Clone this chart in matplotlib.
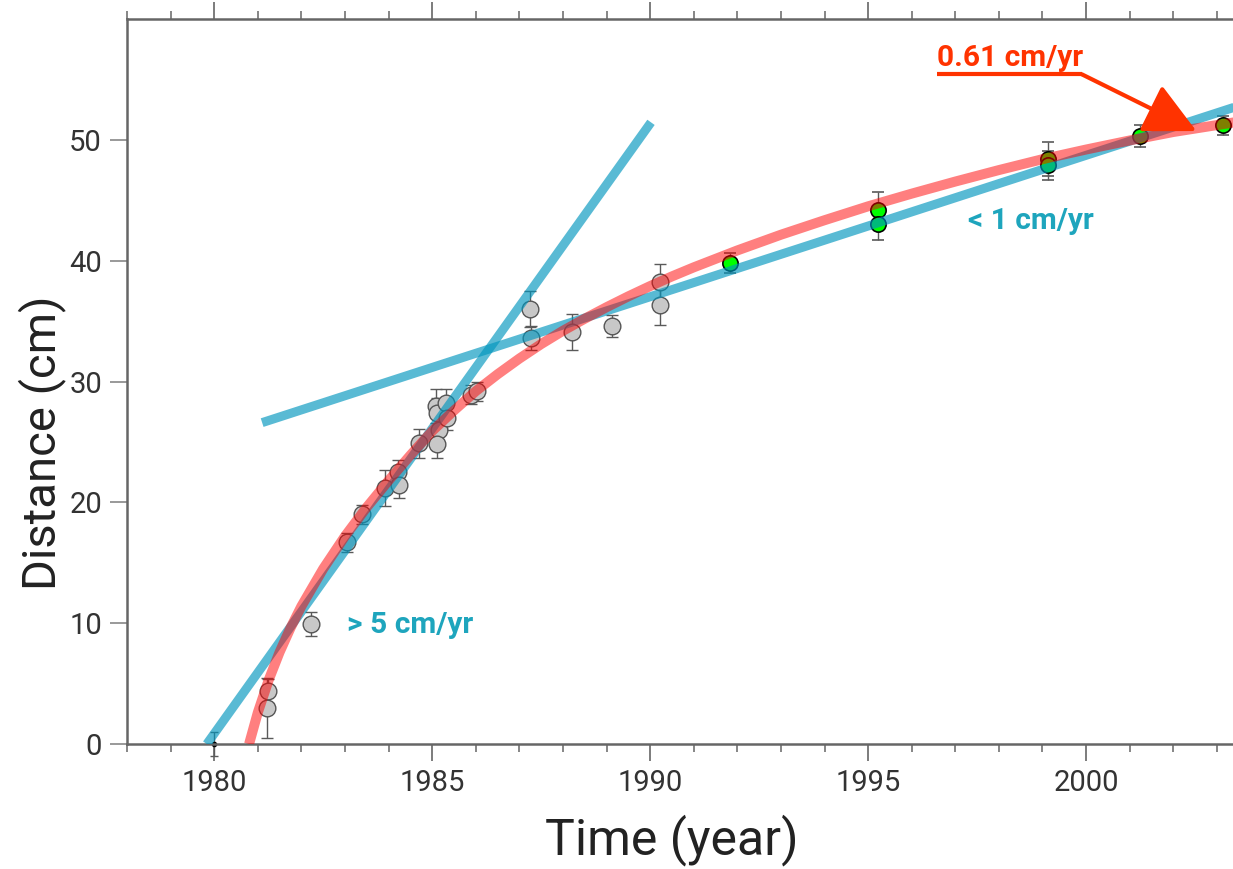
import matplotlib
matplotlib.use("Agg")
import matplotlib.pyplot as plt
from matplotlib import font_manager
from matplotlib.ticker import MultipleLocator

# survey points before 1991 (year, distance in cm, 1-sigma error in cm)
grey_year = [1981.21, 1981.23, 1982.22, 1983.05, 1983.38, 1983.92, 1984.22, 1984.24,
             1984.70, 1985.08, 1985.11, 1985.15, 1985.11, 1985.32, 1985.34, 1985.88,
             1986.03, 1987.24, 1987.27, 1988.20, 1989.12, 1990.22, 1990.22]
grey_dist = [3.0, 4.4, 9.9, 16.7, 19.0, 21.2, 22.5, 21.4,
             24.9, 28.0, 27.4, 26.0, 24.8, 28.2, 27.0, 28.9,
             29.2, 36.0, 33.6, 34.1, 34.6, 38.2, 36.3]
grey_err = [2.5, 1.0, 1.0, 0.8, 0.8, 1.5, 1.0, 1.0,
            1.2, 1.4, 1.2, 1.0, 1.1, 1.2, 1.0, 0.8,
            0.8, 1.5, 1.0, 1.5, 0.9, 1.5, 1.6]

# newer survey points
green_year = [1991.83, 1995.22, 1995.22, 1999.12, 1999.12, 2001.23, 2003.14]
green_dist = [39.8, 44.2, 43.0, 48.4, 47.9, 50.3, 51.2]
green_err = [0.8, 1.5, 1.3, 1.4, 1.2, 0.9, 0.8]

# reference point
origin_year = [1980.0]
origin_dist = [0.0]
origin_err = [1.0]

# decaying fit curve
fit_year = [1980.80, 1981.0, 1981.25, 1981.5, 1981.75, 1982.0, 1982.5, 1983.0, 1983.5,
            1984.0, 1984.5, 1985.0, 1985.5, 1986.0, 1986.5, 1987.0, 1987.5, 1988.0,
            1988.5, 1989.0, 1989.5, 1990.0, 1990.5, 1991.0, 1992.0, 1993.0, 1994.0,
            1995.0, 1996.0, 1997.0, 1998.0, 1999.0, 2000.0, 2001.0, 2002.0, 2003.4]
fit_dist = [0.0, 2.6, 5.3, 7.6, 9.6, 11.4, 14.5, 17.2, 19.6,
            21.8, 23.9, 25.9, 27.6, 29.2, 30.6, 31.9, 33.1, 34.2,
            35.2, 36.15, 37.05, 37.9, 38.7, 39.45, 40.85, 42.15, 43.35,
            44.5, 45.55, 46.55, 47.5, 48.4, 49.2, 49.95, 50.65, 51.45]

# straight-line rates
early_year = [1979.83, 1990.02]
early_dist = [0.0, 51.45]
late_year = [1981.10, 2003.40]
late_dist = [26.6, 52.7]

names = {f.name for f in font_manager.fontManager.ttflist}
narrow = "Liberation Sans Narrow" if "Liberation Sans Narrow" in names else "Roboto"
label_size = 25 if narrow != "Roboto" else 21.5

plt.rcParams["font.family"] = ["Roboto", "DejaVu Sans"]

fig = plt.figure(figsize=(12.33, 8.69), dpi=100)
ax = fig.add_axes([0.103, 0.1438, 0.897, 0.8343])

ax.errorbar(grey_year, grey_dist, yerr=grey_err, fmt="o", ms=12, mfc="#c8c8c8",
            mec="#555555", mew=1, ecolor="#5a5a5a", elinewidth=1, capsize=4.5, zorder=2)
ax.errorbar(green_year, green_dist, yerr=green_err, fmt="o", ms=11, mfc="#00ff00",
            mec="black", mew=1.2, ecolor="#5a5a5a", elinewidth=1, capsize=4.5, zorder=2)
ax.errorbar(origin_year, origin_dist, yerr=origin_err, fmt="o", ms=3, mfc="black",
            mec="black", ecolor="#5a5a5a", elinewidth=1, capsize=3, zorder=2, clip_on=False)

ax.plot(early_year, early_dist, color="#0096be", alpha=0.65, lw=6.5,
        solid_capstyle="butt", zorder=3)
ax.plot(late_year, late_dist, color="#0096be", alpha=0.65, lw=6.5,
        solid_capstyle="butt", zorder=3)
ax.plot(fit_year, fit_dist, color="red", alpha=0.5, lw=7.2,
        solid_capstyle="butt", solid_joinstyle="round", zorder=4)

# rate labels
teal = "#1ea5bd"
ax.text(1983.05, 9.86, "> 5 cm/yr", color=teal, fontsize=label_size, fontweight="bold",
        family=[narrow, "DejaVu Sans"], ha="left", va="center")
ax.text(1997.29, 43.3, "< 1 cm/yr", color=teal, fontsize=label_size, fontweight="bold",
        family=[narrow, "DejaVu Sans"], ha="left", va="center")

orange = "#ff3300"
ax.text(1996.58, 56.1, "0.61 cm/yr", color=orange, fontsize=label_size, fontweight="bold",
        family=[narrow, "DejaVu Sans"], ha="left", va="baseline", zorder=6)
ax.plot([1996.58, 1999.9], [55.43, 55.43], color=orange, lw=3, zorder=6,
        solid_capstyle="butt")
ax.annotate("", xy=(2002.53, 50.73), xytext=(1999.9, 55.43), zorder=6,
            arrowprops=dict(arrowstyle="-|>,head_length=1.6,head_width=0.8",
                            color=orange, lw=3, mutation_scale=20,
                            shrinkA=0, shrinkB=0))

ax.set_xlim(1978, 2003.37)
ax.set_ylim(0, 60)
ax.xaxis.set_major_locator(MultipleLocator(5))
ax.xaxis.set_minor_locator(MultipleLocator(1))
ax.set_yticks([0, 10, 20, 30, 40, 50])

ax.tick_params(axis="x", which="major", length=12, width=1.2, top=True,
               direction="out", colors="#666666", labelcolor="#333333",
               labelsize=21, pad=6)
ax.tick_params(axis="x", which="minor", length=6, width=1.1, top=True,
               direction="out", colors="#666666")
ax.tick_params(axis="y", length=12, width=1.2, right=False, direction="out",
               colors="#888888", labelcolor="#333333", labelsize=21, pad=6)

for side in ["left", "top", "bottom"]:
    ax.spines[side].set_color("#666666")
    ax.spines[side].set_linewidth(1.8)
ax.spines["right"].set_visible(False)

ax.set_xlabel("Time (year)", fontsize=36, color="#222222", va="center")
ax.xaxis.set_label_coords(0.493, -0.132)
ax.set_ylabel("Distance (cm)", fontsize=34, color="#222222", va="center")
ax.yaxis.set_label_coords(-0.077, 0.415)

fig.savefig("out.png", dpi=100)
